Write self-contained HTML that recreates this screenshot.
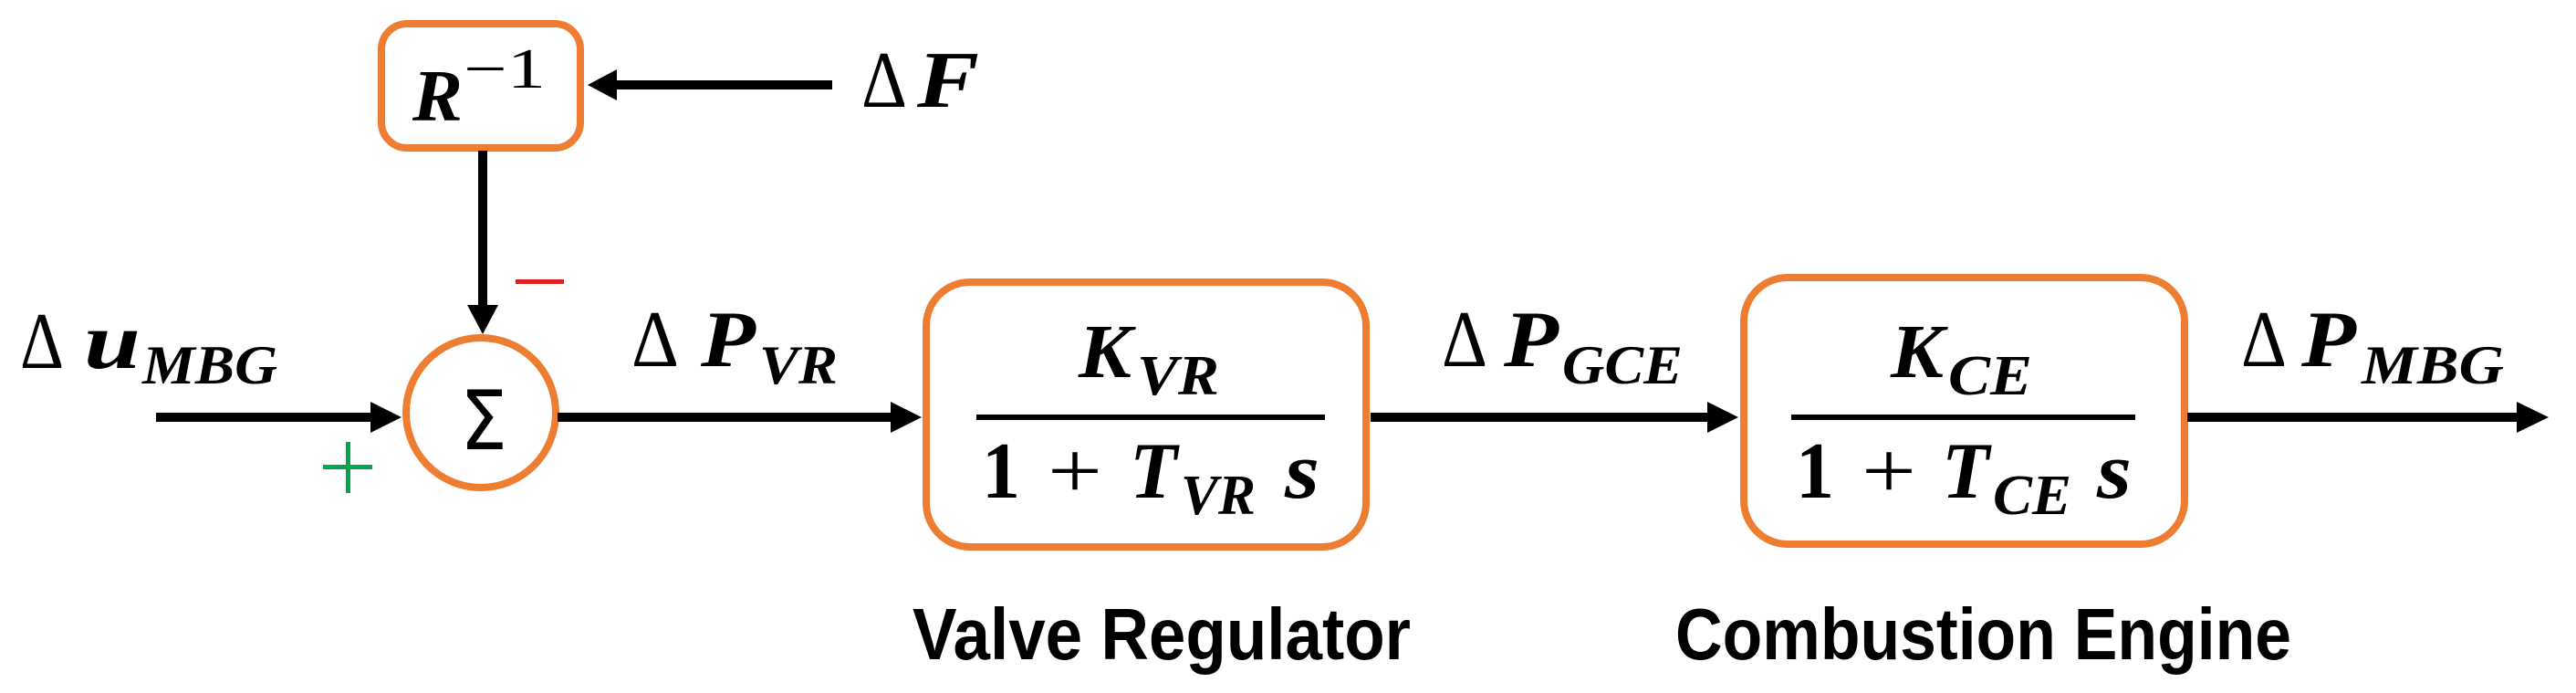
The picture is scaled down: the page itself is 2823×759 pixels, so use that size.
<!DOCTYPE html>
<html><head><meta charset="utf-8"><style>
html,body{margin:0;padding:0;background:#fff;}
svg{display:block;}
.m{font-family:"Liberation Serif",serif;font-style:italic;font-weight:bold;fill:#000;}
.d{font-family:"Liberation Serif",serif;fill:#000;}
.t{font-family:"Liberation Sans",sans-serif;font-weight:bold;fill:#000;}
</style></head><body>
<svg width="2823" height="759" viewBox="0 0 2823 759" xmlns="http://www.w3.org/2000/svg">
<defs>
<marker id="ah" markerWidth="10" markerHeight="10" refX="0" refY="0" orient="auto" markerUnits="userSpaceOnUse" overflow="visible">
</marker>
</defs>
<g fill="none" stroke="#ED7D31" stroke-width="8">
<rect x="418" y="26" width="218" height="136" rx="28"/>
<ellipse cx="527" cy="452" rx="82" ry="82"/>
<rect x="1015" y="309" width="482" height="290" rx="48"/>
<rect x="1911" y="304" width="483" height="292" rx="48"/>
</g>
<g stroke="#000" stroke-width="10">
<line x1="912" y1="93" x2="670" y2="93"/>
<line x1="529" y1="165" x2="529" y2="340"/>
<line x1="171" y1="457" x2="410" y2="457"/>
<line x1="611" y1="457" x2="980" y2="457"/>
<line x1="1502" y1="457" x2="1875" y2="457"/>
<line x1="2397" y1="457" x2="2762" y2="457"/>
</g>
<g fill="#000">
<polygon points="644,93 676,76 676,110"/>
<polygon points="529,366 512,334 546,334"/>
<polygon points="440,457 406,440 406,474"/>
<polygon points="1010,457 976,440 976,474"/>
<polygon points="1905,457 1871,440 1871,474"/>
<polygon points="2793,457 2758,440 2758,474"/>
</g>
<rect x="1070" y="454" width="382" height="6" fill="#000"/>
<rect x="1963" y="454" width="377" height="6" fill="#000"/>
<rect x="565" y="306" width="53" height="5" fill="#E02020"/>
<rect x="354" y="509" width="54" height="5" fill="#00A651"/>
<rect x="379" y="484" width="5" height="56" fill="#00A651"/>
<text x="504" y="492" font-family="DejaVu Sans, sans-serif" font-size="90" fill="#000" textLength="52" lengthAdjust="spacingAndGlyphs">Σ</text>
<!-- R^-1 -->
<text class="m" x="452" y="132" font-size="80" textLength="55" lengthAdjust="spacingAndGlyphs">R</text>
<text class="d" x="508" y="96" font-size="62" textLength="90" lengthAdjust="spacingAndGlyphs">−1</text>
<!-- ΔF -->
<text class="d" x="944" y="117" font-size="88" textLength="50" lengthAdjust="spacingAndGlyphs">Δ</text>
<text class="m" x="1005" y="117" font-size="88" textLength="68" lengthAdjust="spacingAndGlyphs">F</text>
<!-- Δu_MBG -->
<text class="d" x="22" y="403" font-size="88" textLength="48" lengthAdjust="spacingAndGlyphs">Δ</text>
<text class="m" x="92" y="403" font-size="88" textLength="62" lengthAdjust="spacingAndGlyphs">u</text>
<text class="m" x="156" y="420" font-size="60" textLength="148" lengthAdjust="spacingAndGlyphs">MBG</text>
<!-- ΔP_VR -->
<text class="d" x="692" y="401" font-size="88" textLength="52" lengthAdjust="spacingAndGlyphs">Δ</text>
<text class="m" x="768" y="401" font-size="88" textLength="60" lengthAdjust="spacingAndGlyphs">P</text>
<text class="m" x="832" y="420" font-size="60" textLength="86" lengthAdjust="spacingAndGlyphs">VR</text>
<!-- ΔP_GCE -->
<text class="d" x="1580" y="401" font-size="88" textLength="50" lengthAdjust="spacingAndGlyphs">Δ</text>
<text class="m" x="1648" y="401" font-size="88" textLength="60" lengthAdjust="spacingAndGlyphs">P</text>
<text class="m" x="1712" y="420" font-size="60" textLength="132" lengthAdjust="spacingAndGlyphs">GCE</text>
<!-- ΔP_MBG -->
<text class="d" x="2456" y="401" font-size="88" textLength="50" lengthAdjust="spacingAndGlyphs">Δ</text>
<text class="m" x="2522" y="401" font-size="88" textLength="60" lengthAdjust="spacingAndGlyphs">P</text>
<text class="m" x="2588" y="420" font-size="60" textLength="156" lengthAdjust="spacingAndGlyphs">MBG</text>
<!-- VR block -->
<text class="m" x="1182" y="413" font-size="84" textLength="58" lengthAdjust="spacingAndGlyphs">K</text>
<text class="m" x="1246" y="432" font-size="62" textLength="90" lengthAdjust="spacingAndGlyphs">VR</text>
<text class="d" x="1076" y="545" font-size="88" font-weight="bold" textLength="42" lengthAdjust="spacingAndGlyphs">1</text>
<text class="d" x="1148" y="545" font-size="88" textLength="60" lengthAdjust="spacingAndGlyphs">+</text>
<text class="m" x="1238" y="545" font-size="88" textLength="52" lengthAdjust="spacingAndGlyphs">T</text>
<text class="m" x="1294" y="563" font-size="62" textLength="82" lengthAdjust="spacingAndGlyphs">VR</text>
<text class="m" x="1408" y="545" font-size="88" textLength="38" lengthAdjust="spacingAndGlyphs">s</text>
<!-- CE block -->
<text class="m" x="2072" y="413" font-size="84" textLength="58" lengthAdjust="spacingAndGlyphs">K</text>
<text class="m" x="2135" y="432" font-size="62" textLength="92" lengthAdjust="spacingAndGlyphs">CE</text>
<text class="d" x="1968" y="545" font-size="88" font-weight="bold" textLength="42" lengthAdjust="spacingAndGlyphs">1</text>
<text class="d" x="2040" y="545" font-size="88" textLength="60" lengthAdjust="spacingAndGlyphs">+</text>
<text class="m" x="2128" y="545" font-size="88" textLength="52" lengthAdjust="spacingAndGlyphs">T</text>
<text class="m" x="2184" y="563" font-size="62" textLength="86" lengthAdjust="spacingAndGlyphs">CE</text>
<text class="m" x="2298" y="545" font-size="88" textLength="38" lengthAdjust="spacingAndGlyphs">s</text>
<!-- captions -->
<text class="t" x="1000" y="722" font-size="80" textLength="546" lengthAdjust="spacingAndGlyphs">Valve Regulator</text>
<text class="t" x="1836" y="722" font-size="80" textLength="675" lengthAdjust="spacingAndGlyphs">Combustion Engine</text>
</svg>
</body></html>
